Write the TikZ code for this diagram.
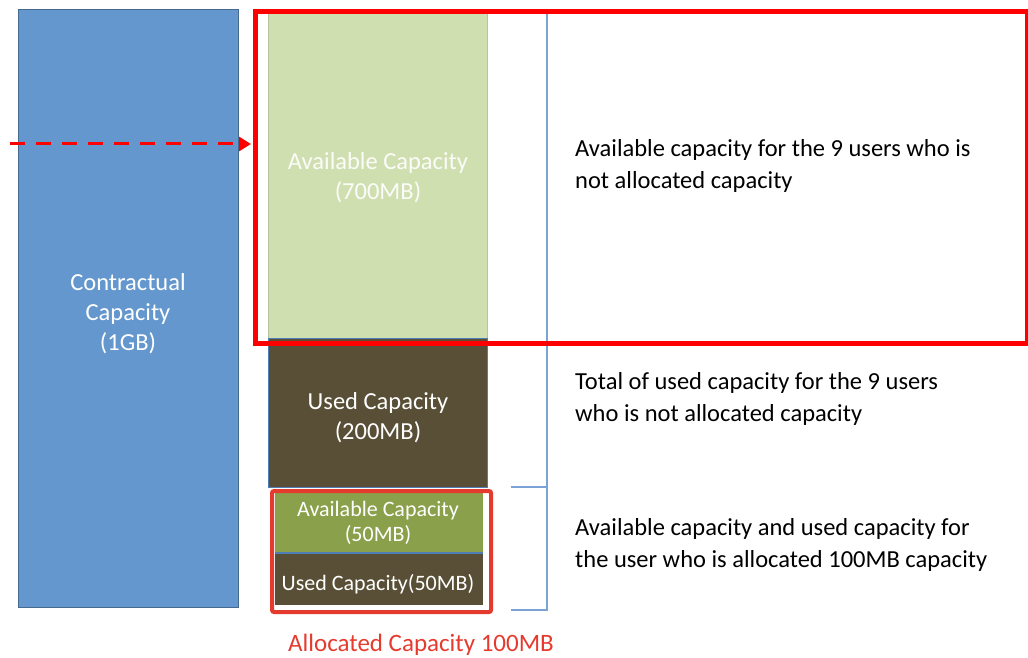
\documentclass[tikz,border=0pt]{standalone}
\usepackage{fontspec}
\setmainfont{Carlito}
\usetikzlibrary{arrows.meta}
\definecolor{cblue}{HTML}{6497CD}
\definecolor{cbluedark}{HTML}{4F7DB5}
\definecolor{lgreen}{HTML}{D0DFB0}
\definecolor{dbrown}{HTML}{594F36}
\definecolor{olive}{HTML}{8AA04A}
\definecolor{brack}{HTML}{7BA3D6}
\definecolor{lblred}{HTML}{E53B2E}
\tikzset{
  box/.style={anchor=north west, inner sep=0pt, outer sep=0pt, draw=#1!70!black, line width=1pt},
  wtxt/.style={text=white, font=\fontsize{24.5}{30}\selectfont, align=center, inner sep=0pt},
  stxt/.style={text=white, font=\fontsize{22}{25}\selectfont, align=center, inner sep=0pt},
  desc/.style={text=black, font=\fontsize{24.5}{32}\selectfont, align=left, anchor=west, inner sep=0pt},
  brk/.style={draw=brack, line width=1.6pt},
}
\begin{document}
\begin{tikzpicture}[x=1pt,y=-1pt]
\useasboundingbox (0,0) rectangle (1028,658);
% left column
\node[box=cblue, fill=cblue, minimum width=220pt, minimum height=597pt] (contract) at (18,10) {};
\node[wtxt] (contracttxt) at (128,314) {Contractual\\Capacity\\(1GB)};
% middle stack
\node[box=lgreen, fill=lgreen, draw=lgreen!70!gray, minimum width=219pt, minimum height=326pt] (avail) at (268,12) {};
\node[wtxt, text=white!92!lgreen] (availtxt) at (378,178) {Available Capacity\\(700MB)};
\node[box=dbrown, fill=dbrown, draw=cbluedark, minimum width=219pt, minimum height=149pt] (used) at (268,338) {};
\node[wtxt] (usedtxt) at (378,418) {Used Capacity\\(200MB)};
% allocated part
\node[anchor=north west, fill=olive, inner sep=0pt, minimum width=208pt, minimum height=61pt] (avail50) at (275,492) {};
\node[stxt] (avail50txt) at (378,523) {Available Capacity\\(50MB)};
\node[anchor=north west, fill=dbrown, inner sep=0pt, minimum width=208pt, minimum height=52pt] (used50) at (275,553) {};
\draw[cbluedark, line width=2pt] (avail50.south west) -- (avail50.south east);
\node[stxt] (used50txt) at (378,584) {Used Capacity(50MB)};
\node[anchor=north west, draw=lblred, line width=4pt, rounded corners=2pt, inner sep=0pt, minimum width=219pt, minimum height=121pt] (allocbox) at (270,489) {};
\node[text=lblred, font=\fontsize{25}{28}\selectfont, inner sep=0pt] (alloctxt) at (421,645) {Allocated Capacity 100MB};
% bracket
\coordinate (bt0) at (503,12);
\coordinate (bt1) at (547,12);
\coordinate (bm0) at (511,487);
\coordinate (bm1) at (547,487);
\coordinate (bb0) at (511,610);
\coordinate (bb1) at (547,610);
\draw[brk] (bt0) -- (bt1) -- (bb1) -- (bb0);
\draw[brk] (bm0) -- (bm1);
% big red frame
\node[anchor=north west, draw=red, line width=5pt, inner sep=0pt, minimum width=772pt, minimum height=332pt] (frame) at (253,9) {};
% dashed arrow
\coordinate (astart) at (10,144);
\coordinate (aend) at (251,144);
\draw[red, line width=3pt, dash pattern=on 15pt off 11pt, -{Triangle[length=12pt,width=14pt]}] (astart) -- (aend);
% descriptions
\node[desc] (d1) at (575,166) {Available capacity for the 9 users who is\\not allocated capacity};
\node[desc] (d2) at (575,399) {Total of used capacity for the 9 users\\who is not allocated capacity};
\node[desc] (d3) at (575,545) {Available capacity and used capacity for\\the user who is allocated 100MB capacity};
\end{tikzpicture}
\end{document}
